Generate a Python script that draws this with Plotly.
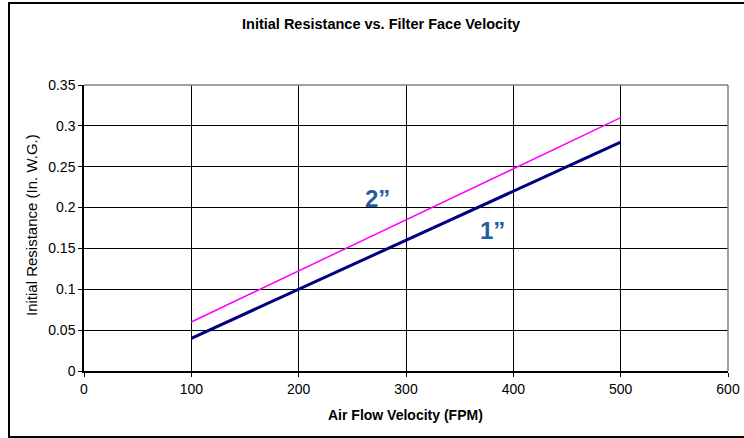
import plotly.graph_objects as go

velocity = [100, 500]
res_1in = [0.04, 0.28]
res_2in = [0.06, 0.31]

x_ticks = [0, 100, 200, 300, 400, 500, 600]
y_ticks = [0, 0.05, 0.1, 0.15, 0.2, 0.25, 0.3, 0.35]
y_tick_text = ["0", "0.05", "0.1", "0.15", "0.2", "0.25", "0.3", "0.35"]

W, H = 744, 438
L, R, T, B = 84, 16, 85, 67
pw, ph = W - L - R, H - T - B

def px_x(p):
    return (p - L) / pw

def px_y(p):
    return (H - B - p) / ph

font = "Liberation Sans, Arial, sans-serif"

fig = go.Figure()
fig.add_trace(go.Scatter(x=velocity, y=res_2in, mode="lines",
                         line=dict(color="#FF00FF", width=1.5), name='2"'))
fig.add_trace(go.Scatter(x=velocity, y=res_1in, mode="lines",
                         line=dict(color="#000080", width=3), name='1"'))

fig.update_layout(
    width=W, height=H, autosize=False,
    margin=dict(l=L, r=R, t=T, b=B),
    paper_bgcolor="white", plot_bgcolor="white",
    showlegend=False,
    font=dict(family=font, size=14, color="black"),
)
fig.update_xaxes(range=[0, 600], tickvals=x_ticks, ticks="outside", ticklen=4,
                 tickcolor="black", showgrid=True, gridcolor="black", gridwidth=1,
                 showline=True, linecolor="black", linewidth=1.5, mirror=False,
                 zeroline=False, tickfont=dict(size=14), fixedrange=True,
                 automargin=False)
fig.update_yaxes(range=[0, 0.35], tickvals=y_ticks, ticktext=y_tick_text,
                 ticks="outside", ticklen=4, tickcolor="black",
                 showgrid=True, gridcolor="black", gridwidth=1,
                 showline=True, linecolor="black", linewidth=1.5,
                 zeroline=False, tickfont=dict(size=14), fixedrange=True,
                 automargin=False)

# plot area top/right border (gray)
fig.add_shape(type="line", xref="paper", yref="paper", x0=0, x1=1, y0=1, y1=1,
              line=dict(color="#808080", width=1.5))
fig.add_shape(type="line", xref="paper", yref="paper", x0=1, x1=1, y0=0, y1=1,
              line=dict(color="#808080", width=1.5))
# outer chart border (right edge just beyond the visible area)
fig.add_shape(type="rect", xref="paper", yref="paper",
              x0=px_x(9), x1=px_x(747), y0=px_y(437), y1=px_y(3),
              line=dict(color="black", width=2), layer="below")

fig.add_annotation(text="<b>Initial Resistance vs. Filter Face Velocity</b>",
                   xref="paper", yref="paper", x=px_x(381), y=px_y(24),
                   showarrow=False, font=dict(size=14.5), xanchor="center", yanchor="middle")
fig.add_annotation(text="<b>Air Flow Velocity (FPM)</b>",
                   xref="paper", yref="paper", x=px_x(405), y=px_y(415),
                   showarrow=False, font=dict(size=14), xanchor="center", yanchor="middle")
fig.add_annotation(text="Initial Resistance (In. W.G.)", textangle=-90,
                   xref="paper", yref="paper", x=px_x(31), y=px_y(225),
                   showarrow=False, font=dict(size=15), xanchor="center", yanchor="middle")
fig.add_annotation(text="<b>2\u201d</b>", xref="paper", yref="paper",
                   x=px_x(377), y=px_y(198), showarrow=False,
                   font=dict(size=24, color="#1F5F9F"), xanchor="center", yanchor="middle")
fig.add_annotation(text="<b>1\u201d</b>", xref="paper", yref="paper",
                   x=px_x(492), y=px_y(230), showarrow=False,
                   font=dict(size=24, color="#1F5F9F"), xanchor="center", yanchor="middle")

post = "document.body.style.margin='0';document.body.style.overflow='hidden';"
fig.write_html("out.html", config={"displayModeBar": False, "responsive": False},
               post_script=post)
